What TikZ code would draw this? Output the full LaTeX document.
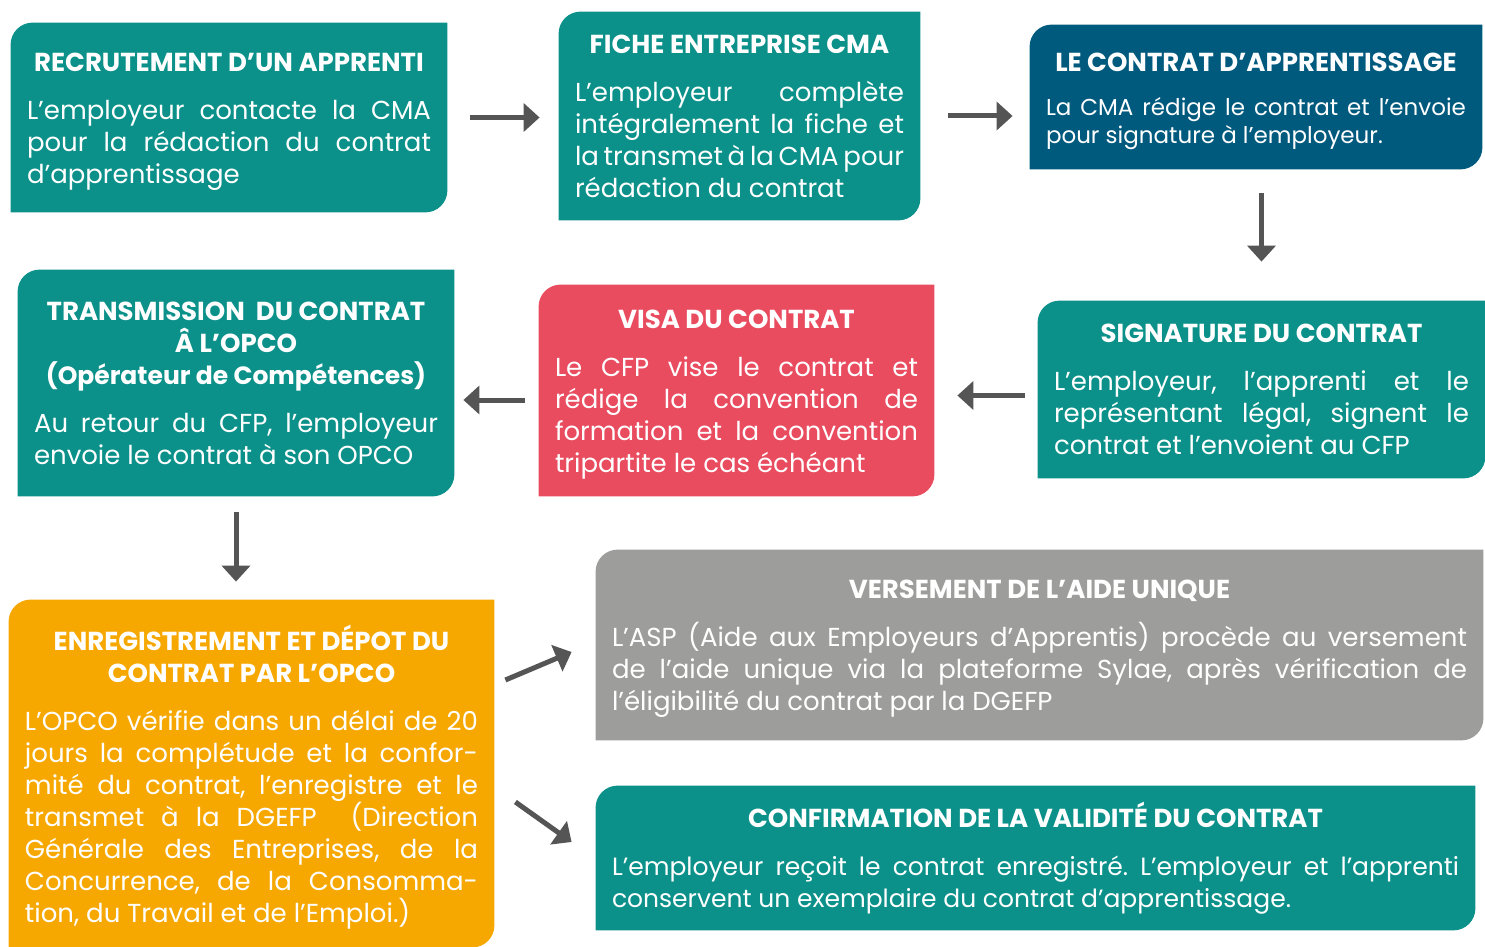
\documentclass[tikz,border=0pt]{standalone}
\usepackage{fontspec}
\setmainfont{Poppins}
\usetikzlibrary{arrows.meta,backgrounds}

\definecolor{cmateal}{RGB}{11,145,138}
\definecolor{cmablue}{RGB}{0,90,126}
\definecolor{cmared}{RGB}{233,75,95}
\definecolor{cmaorange}{RGB}{246,168,0}
\definecolor{cmagray}{RGB}{157,157,156}
\definecolor{arrowgray}{RGB}{85,85,85}

\setlength{\parindent}{0pt}
\setlength{\parskip}{0pt}
\tolerance=10000
\frenchspacing

% box title, centred above the justified text
\newcommand\boxtitle[1]{{\centering\fontsize{13}{16}\selectfont\bfseries #1\par}\vspace{8pt}}
% end of box text, a bit lower than the middle
\newcommand\boxend{\par\vspace{-4pt}}
% coloured shape behind a node: top left and bottom right corners rounded
\newcommand\leaf[2]{\fill[#2] (#1.south west) -- ([yshift=-11pt]#1.north west)
  arc[start angle=180,end angle=90,radius=11pt] -- (#1.north east)
  -- ([yshift=11pt]#1.south east) arc[start angle=0,end angle=-90,radius=11pt] -- cycle;}

\begin{document}
\begin{tikzpicture}[x=0.5pt,y=-0.5pt]
	\tikzstyle{box}=[inner xsep=8pt, inner ysep=0pt, align=justify, text=white,
		font=\fontsize{13}{16}\selectfont]
	\tikzstyle{arr}=[draw=arrowgray, line width=2.5pt, -{Triangle[length=8pt,width=14pt]}]

	\useasboundingbox (0,0) rectangle (1485,947);

	\node[box, text width=202pt, minimum height=94.5pt] (rec) at (229,117.5)
		{\boxtitle{RECRUTEMENT D’UN APPRENTI}
		L'employeur contacte la CMA\linebreak pour la rédaction du contrat\linebreak d’apprentissage\boxend};
	\node[box, text width=164.5pt, minimum height=104pt] (fiche) at (739.5,116)
		{\boxtitle{FICHE ENTREPRISE CMA}
		L’employeur complète\linebreak intégralement la fiche et\linebreak la transmet à la CMA pour\linebreak rédaction du contrat};
	\node[box, text width=210pt, minimum height=72pt, font=\fontsize{11.5}{14}\selectfont] (contrat) at (1256,97)
		{\boxtitle{LE CONTRAT D’APPRENTISSAGE}
		La CMA rédige le contrat et l’envoie\linebreak pour signature à l’employeur.\boxend};
	\node[box, text width=207.5pt, minimum height=88.5pt] (sign) at (1261.5,389.5)
		{\boxtitle{SIGNATURE DU CONTRAT}
		L’employeur, l’apprenti et le\linebreak représentant légal, signent le\linebreak contrat et l’envoient au CFP};
	\node[box, text width=181.5pt, minimum height=105.5pt] (visa) at (736.5,390.5)
		{\boxtitle{VISA DU CONTRAT}
		Le CFP vise le contrat et\linebreak rédige la convention de\linebreak formation et la convention\linebreak tripartite le cas échéant\boxend};
	\node[box, text width=202pt, minimum height=113pt] (trans) at (236,383)
		{\boxtitle{TRANSMISSION~ DU CONTRAT\par Â L’OPCO\par {\fontsize{12.5}{16}\selectfont(Opérateur de Compétences)}}
		Au retour du CFP, l’employeur\linebreak envoie le contrat à son OPCO};
	\node[box, text width=226.5pt, minimum height=173.5pt] (enreg) at (251.5,773.5)
		{\boxtitle{ENREGISTREMENT ET DÉPOT DU\par CONTRAT PAR L’OPCO}
		L’OPCO vérifie dans un délai de 20\linebreak jours la complétude et la confor-\linebreak mité du contrat, l’enregistre et le\linebreak transmet à la DGEFP~ (Direction\linebreak Générale des Entreprises, de la\linebreak Concurrence, de la Consomma-\linebreak tion, du Travail et de l’Emploi.)\boxend};
	\node[box, text width=427.5pt, minimum height=95pt] (vers) at (1039.5,645)
		{\boxtitle{VERSEMENT DE L’AIDE UNIQUE}
		L’ASP (Aide aux Employeurs d'Apprentis) procède au versement\linebreak de l’aide unique via la plateforme Sylae, après vérification de\linebreak l’éligibilité du contrat par la DGEFP\boxend};
	\node[box, text width=423.5pt, minimum height=72pt, font=\fontsize{12.5}{16}\selectfont] (conf) at (1035.5,858)
		{\boxtitle{CONFIRMATION DE LA VALIDITÉ DU CONTRAT}
		L’employeur reçoit le contrat enregistré. L’employeur et l’apprenti\linebreak conservent un exemplaire du contrat d’apprentissage.};

	\begin{scope}[on background layer]
		\foreach \n/\c in {rec/cmateal,fiche/cmateal,contrat/cmablue,sign/cmateal,visa/cmared,
			trans/cmateal,enreg/cmaorange,vers/cmagray,conf/cmateal}
		\leaf{\n}{\c};
	\end{scope}

	\draw[arr, shorten <=11.5pt, shorten >=9.5pt] (rec.east) -- (rec.east -| fiche.west);
	\draw[arr, shorten <=14pt, shorten >=8.5pt] (fiche.east) -- (fiche.east -| contrat.west);
	\draw[arr, shorten <=12pt, shorten >=19.5pt] (sign.north |- contrat.south) -- (sign.north);
	\draw[arr, shorten <=6.5pt, shorten >=11.5pt] ([yshift=-3pt]sign.west) -- ([yshift=-3pt]sign.west -| visa.east);
	\draw[arr, shorten <=7pt, shorten >=4.5pt] ([yshift=-4.75pt]visa.west) -- ([yshift=-4.75pt]visa.west -| trans.east);
	\draw[arr, shorten <=8pt, shorten >=9pt] (trans.south) -- (trans.south |- enreg.north);
	\draw[arr] ([xshift=5.5pt,yshift=46.75pt]enreg.east) -- ([xshift=-12pt,yshift=-3.5pt]vers.west);
	\draw[arr] ([xshift=10.5pt,yshift=-14.25pt]enreg.east) -- ([xshift=-12pt,yshift=8pt]conf.west);
\end{tikzpicture}
\end{document}
